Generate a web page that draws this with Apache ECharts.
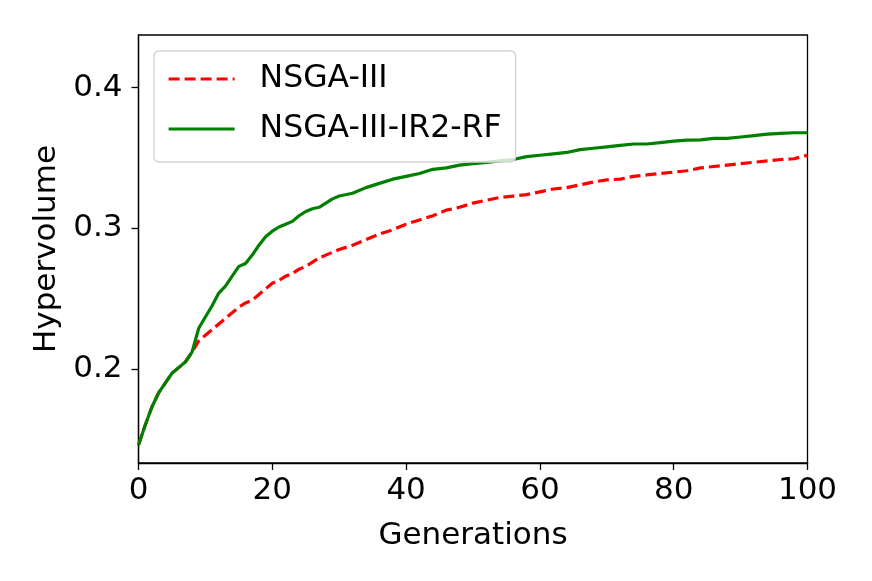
<!DOCTYPE html>
<html lang="en">
<head>
<meta charset="utf-8">
<title>Hypervolume</title>
<script src="https://cdn.jsdelivr.net/npm/echarts@6/dist/echarts.min.js"></script>
<style>
    html, body { margin: 0; padding: 0; background: #fff; }
    #chart { width: 872px; height: 581px; }
</style>
</head>
<body>
<div id="chart"></div>
<script>
    // generations sampled along the x axis
    var generations = [0, 1, 2, 3, 4, 5, 6, 7, 8, 9, 10, 11, 12, 13, 14, 15, 16, 17, 18, 19, 20,
        21, 22, 23, 24, 25, 26, 27, 28, 29, 30, 32, 34, 36, 38, 40, 42, 44, 46, 48, 50,
        52, 54, 56, 58, 60, 62, 64, 66, 68, 70, 72, 74, 76, 78, 80, 82, 84, 86, 88, 90,
        92, 94, 96, 98, 100];

    var nsga3 = [0.146, 0.160, 0.173, 0.183, 0.190, 0.197, 0.201, 0.205, 0.212, 0.220, 0.224,
        0.228, 0.232, 0.236, 0.240, 0.244, 0.247, 0.249, 0.253, 0.257, 0.261,
        0.263, 0.266, 0.268, 0.271, 0.273, 0.276, 0.279, 0.281, 0.283, 0.285,
        0.288, 0.292, 0.296, 0.299, 0.303, 0.306, 0.309, 0.313, 0.315, 0.318,
        0.320, 0.322, 0.323, 0.324, 0.326, 0.328, 0.329, 0.331, 0.333, 0.3345,
        0.335, 0.337, 0.338, 0.339, 0.340, 0.341, 0.343, 0.344, 0.345, 0.346,
        0.347, 0.348, 0.349, 0.3495, 0.352];

    var nsga3IR2RF = [0.146, 0.160, 0.173, 0.183, 0.190, 0.197, 0.201, 0.205, 0.212, 0.229, 0.237,
        0.245, 0.254, 0.259, 0.266, 0.273, 0.275, 0.281, 0.288, 0.294, 0.298,
        0.301, 0.303, 0.305, 0.309, 0.312, 0.314, 0.315, 0.318, 0.321, 0.323,
        0.325, 0.329, 0.332, 0.335, 0.337, 0.339, 0.342, 0.343, 0.345, 0.346,
        0.347, 0.348, 0.349, 0.351, 0.352, 0.353, 0.354, 0.356, 0.357, 0.358,
        0.359, 0.360, 0.360, 0.361, 0.362, 0.3628, 0.363, 0.364, 0.364, 0.365,
        0.366, 0.367, 0.3675, 0.368, 0.368];

    var xTicks = [0, 20, 40, 60, 80, 100];
    var yTicks = [0.2, 0.3, 0.4];

    function pairs(xs, ys) {
        return xs.map(function (x, i) { return [x, ys[i]]; });
    }

    var font = 'DejaVu Sans';
    var myChart = echarts.init(document.getElementById('chart'));
    myChart.setOption({
        animation: false,
        backgroundColor: '#fff',
        grid: {
            left: 138.5,
            right: 64.5,
            top: 35,
            bottom: 118,
            show: true,
            borderColor: '#000',
            borderWidth: 1.3,
            backgroundColor: 'transparent'
        },
        legend: {
            orient: 'vertical',
            left: 154,
            top: 51,
            width: 366,
            padding: [12, 14, 17, 13],
            itemGap: 18,
            itemWidth: 66,
            itemHeight: 14,
            borderColor: '#d3d3d3',
            borderWidth: 1.3,
            borderRadius: 5,
            backgroundColor: 'rgba(255,255,255,0.8)',
            itemStyle: { opacity: 0 },
            lineStyle: { width: 3.2 },
            textStyle: {
                fontFamily: font,
                fontSize: 31.5,
                color: '#000',
                lineHeight: 28,
                padding: [0, 0, 0, 20]
            },
            data: ['NSGA-III', 'NSGA-III-IR2-RF']
        },
        xAxis: {
            type: 'value',
            min: 0,
            max: 100,
            name: 'Generations',
            nameLocation: 'middle',
            nameGap: 57,
            nameTextStyle: { fontFamily: font, fontSize: 31, color: '#000' },
            splitLine: { show: false },
            axisLine: { show: true, lineStyle: { color: '#000', width: 1.3 } },
            axisTick: { show: true, length: 7, customValues: xTicks, lineStyle: { color: '#000', width: 1.3 } },
            axisLabel: {
                customValues: xTicks,
                margin: 12,
                fontFamily: font,
                fontSize: 31,
                color: '#000'
            }
        },
        yAxis: {
            type: 'value',
            min: 0.1332,
            max: 0.4375,
            name: 'Hypervolume',
            nameLocation: 'middle',
            nameGap: 70,
            nameTextStyle: { fontFamily: font, fontSize: 31, color: '#000' },
            splitLine: { show: false },
            axisLine: { show: true, lineStyle: { color: '#000', width: 1.3 } },
            axisTick: { show: true, length: 7, customValues: yTicks, lineStyle: { color: '#000', width: 1.3 } },
            axisLabel: {
                customValues: yTicks,
                margin: 16,
                fontFamily: font,
                fontSize: 31,
                color: '#000',
                formatter: function (v) { return v.toFixed(1); }
            }
        },
        series: [
            {
                name: 'NSGA-III',
                type: 'line',
                data: pairs(generations, nsga3),
                symbol: 'none',
                color: '#ff0000',
                lineStyle: { color: '#ff0000', width: 3.2, type: [11, 5] }
            },
            {
                name: 'NSGA-III-IR2-RF',
                type: 'line',
                data: pairs(generations, nsga3IR2RF),
                symbol: 'none',
                color: '#008000',
                lineStyle: { color: '#008000', width: 3.2 }
            }
        ]
    });
</script>
</body>
</html>
